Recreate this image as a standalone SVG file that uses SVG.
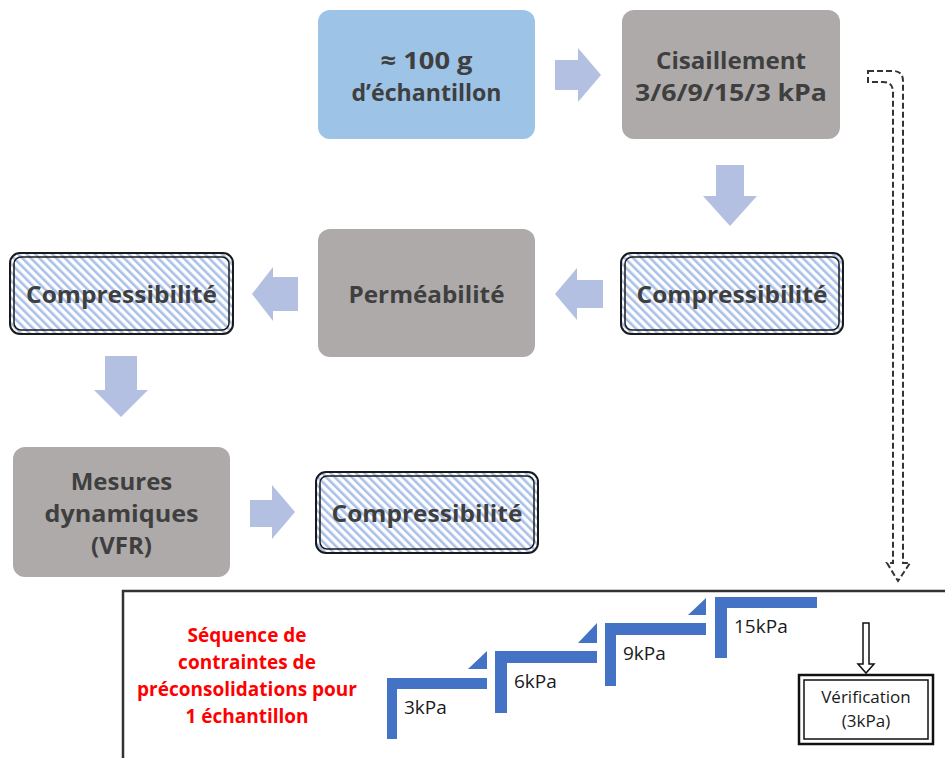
<svg xmlns="http://www.w3.org/2000/svg" width="945" height="758" viewBox="0 0 945 758">
<style>
.node{font-family:"Open Sans","Noto Sans",sans-serif;font-weight:bold;font-size:24px;fill:#3f3f3f;text-anchor:middle}
.blue{fill:#9dc3e6}
.gray{fill:#aeaaaa}
.barrow{fill:#b4c0e2}
.outer{fill:url(#hatch);stroke:#1a1a1a;stroke-width:2}
.inner{fill:none;stroke:#1a1a1a;stroke-width:1.5}
.red{font-family:"Open Sans","Noto Sans",sans-serif;font-weight:bold;font-size:19px;fill:#ff0000;text-anchor:middle}
.step{fill:#4472c4}
.lbl{font-family:"Open Sans","Noto Sans",sans-serif;font-size:19px;fill:#1a1a1a}
.ver{font-family:"Open Sans","Noto Sans",sans-serif;font-size:17px;fill:#1a1a1a;text-anchor:middle}
</style>
<defs>
<pattern id="hatch" patternUnits="userSpaceOnUse" width="6" height="6" patternTransform="rotate(-45)">
<rect width="6" height="6" fill="#ffffff"/>
<rect x="0" y="0" width="2.6" height="6" fill="#a9c0e8"/>
</pattern>
</defs>
<rect width="945" height="758" fill="#ffffff"/>

<g id="connectors">
<path class="barrow" d="M555,60 H578 V48 L601,75 L578,102 V90 H555 Z"/>
<path class="barrow" d="M716,165 H744 V196 H757 L730,226 L703,196 H716 Z"/>
<path class="barrow" d="M603,280 V308 H577 V320 L555,294 L577,268 V280 Z"/>
<path class="barrow" d="M298,277 V311 H273 V321 L252,294 L273,267 V277 Z"/>
<path class="barrow" d="M105,356 H137 V390 H148 L121,417 L94,390 H105 Z"/>
<path class="barrow" d="M250,500 H272 V485 L295,512 L272,539 V527 H250 Z"/>
<path d="M868,71 H893 Q903,71 903,81 V563 H910 L898,581 L887,563 H893 V92 Q893,82 883,82 H868 Z" fill="none" stroke="#333333" stroke-width="2" stroke-dasharray="6,3"/>
</g>

<g id="n-echantillon">
<rect class="blue" x="318" y="10" width="217" height="129" rx="12"/>
<text class="node" x="426.5" y="69" textLength="92" lengthAdjust="spacingAndGlyphs">≈ 100 g</text>
<text class="node" x="426.5" y="101" textLength="150" lengthAdjust="spacingAndGlyphs">d’échantillon</text>
</g>

<g id="n-cisaillement">
<rect class="gray" x="622" y="10" width="218" height="129" rx="12"/>
<text class="node" x="731" y="69" textLength="150" lengthAdjust="spacingAndGlyphs">Cisaillement</text>
<text class="node" x="731" y="101" textLength="192" lengthAdjust="spacingAndGlyphs">3/6/9/15/3 kPa</text>
</g>

<g id="n-compress1">
<rect class="outer" x="621" y="253" width="222" height="81" rx="10"/>
<rect class="inner" x="625" y="257" width="214" height="73" rx="7"/>
<text class="node" x="732" y="303" textLength="191" lengthAdjust="spacingAndGlyphs">Compressibilité</text>
</g>

<g id="n-permeabilite">
<rect class="gray" x="318" y="229" width="217" height="128" rx="12"/>
<text class="node" x="426.5" y="303" textLength="156" lengthAdjust="spacingAndGlyphs">Perméabilité</text>
</g>

<g id="n-compress2">
<rect class="outer" x="10" y="253" width="223" height="81" rx="10"/>
<rect class="inner" x="14" y="257" width="215" height="73" rx="7"/>
<text class="node" x="121.5" y="303" textLength="191" lengthAdjust="spacingAndGlyphs">Compressibilité</text>
</g>

<g id="n-mesures">
<rect class="gray" x="13" y="447" width="217" height="130" rx="12"/>
<text class="node" x="121.5" y="490">Mesures</text>
<text class="node" x="121.5" y="522" textLength="154" lengthAdjust="spacingAndGlyphs">dynamiques</text>
<text class="node" x="121.5" y="554">(VFR)</text>
</g>

<g id="n-compress3">
<rect class="outer" x="316" y="472" width="222" height="81" rx="10"/>
<rect class="inner" x="320" y="476" width="214" height="73" rx="7"/>
<text class="node" x="427" y="522" textLength="191" lengthAdjust="spacingAndGlyphs">Compressibilité</text>
</g>

<g id="n-sequence">
<rect x="123" y="591" width="830" height="200" fill="none" stroke="#333333" stroke-width="2.5"/>
<text class="red" x="247" y="642">Séquence de</text>
<text class="red" x="247" y="669">contraintes de</text>
<text class="red" x="247" y="696" textLength="220" lengthAdjust="spacingAndGlyphs">préconsolidations pour</text>
<text class="red" x="247" y="723">1 échantillon</text>

<path class="step" d="M387,678 H487 V689 H397 V739 H387 Z"/>
<path class="step" d="M468,669 L487,651 V669 Z"/>
<text class="lbl" x="404" y="714">3kPa</text>

<path class="step" d="M495,651 H597 V663 H507 V713 H495 Z"/>
<path class="step" d="M578,643 L597,623 V643 Z"/>
<text class="lbl" x="514" y="688">6kPa</text>

<path class="step" d="M605,623 H706 V635 H616 V686 H605 Z"/>
<path class="step" d="M688,615 L706,598 V615 Z"/>
<text class="lbl" x="623" y="660">9kPa</text>

<path class="step" d="M715,597 H817 V608 H727 V658 H715 Z"/>
<text class="lbl" x="734" y="633">15kPa</text>

<path d="M863,623 H869 V664 H874 L866,673 L858,664 H863 Z" fill="#ffffff" stroke="#111111" stroke-width="1.5"/>
</g>

<g id="n-verification">
<rect x="799" y="675" width="134" height="69" fill="#ffffff" stroke="#111111" stroke-width="2.5"/>
<rect x="804" y="680" width="124" height="59" fill="none" stroke="#111111" stroke-width="1.5"/>
<text class="ver" x="866" y="703">Vérification</text>
<text class="ver" x="866" y="727">(3kPa)</text>
</g>
</svg>
